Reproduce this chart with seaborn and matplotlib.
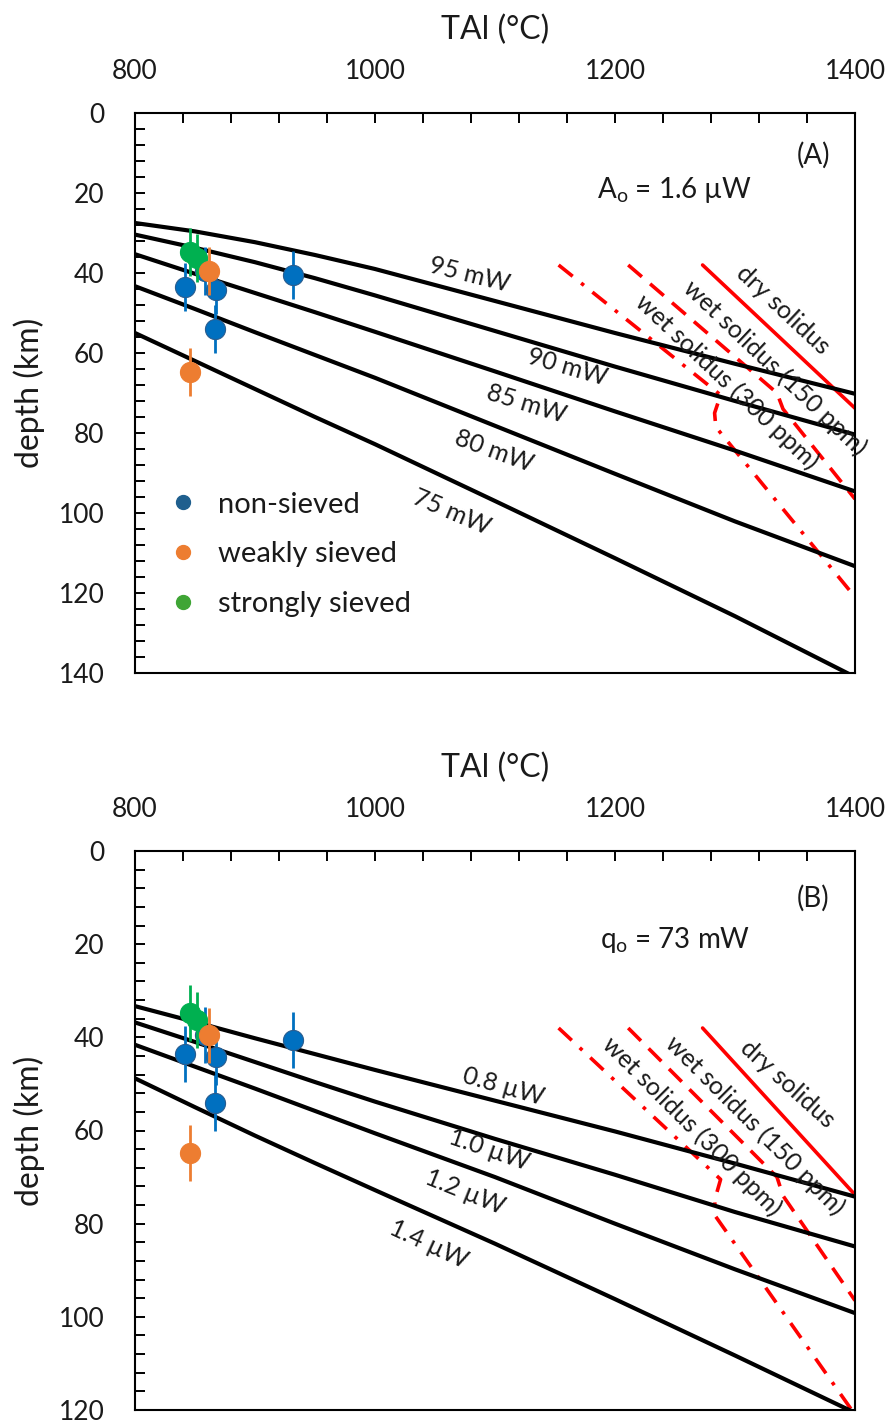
import matplotlib
matplotlib.use("Agg")
import matplotlib.pyplot as plt
from matplotlib.lines import Line2D
from matplotlib.ticker import MultipleLocator
import pandas as pd
import seaborn as sns

sns.set_theme(style="ticks")
plt.rcParams["font.family"] = ["Lato", "DejaVu Sans"]
plt.rcParams["mathtext.fontset"] = "custom"
plt.rcParams["mathtext.rm"] = "Lato"
plt.rcParams["mathtext.it"] = "Lato:italic"

# ---------------------------------------------------------------- data
# temperatures (°C) at which the geotherms are sampled
t_grid = [800, 850, 900, 950, 1000, 1100, 1200, 1300, 1400]

# panel A: geotherms for different surface heat flow, A0 = 1.6 µW
geo_a_names = ["95 mW", "90 mW", "85 mW", "80 mW", "75 mW"]
geo_a_95 = [27.5, 29.6, 32.3, 35.5, 39.0, 47.0, 55.0, 62.7, 70.2]
geo_a_90 = [30.4, 33.7, 37.3, 41.3, 45.6, 54.5, 63.4, 72.0, 80.4]
geo_a_85 = [35.3, 40.2, 45.0, 49.8, 54.7, 64.6, 74.6, 84.4, 94.6]
geo_a_80 = [43.3, 49.0, 54.8, 60.5, 66.2, 78.2, 90.2, 102.1, 113.3]
geo_a_75 = [55.0, 62.0, 69.0, 76.0, 82.8, 97.0, 111.3, 125.8, 141.0]

# panel B: geotherms for different heat production, q0 = 73 mW
geo_b_names = ["0.8 µW", "1.0 µW", "1.2 µW", "1.4 µW"]
geo_b_08 = [33.3, 36.7, 40.2, 43.6, 47.0, 53.6, 60.2, 67.1, 74.2]
geo_b_10 = [36.8, 41.0, 45.3, 49.6, 53.8, 61.8, 69.5, 77.5, 84.9]
geo_b_12 = [41.6, 46.3, 51.0, 55.8, 60.6, 70.0, 80.0, 89.8, 99.2]
geo_b_14 = [48.8, 55.0, 61.1, 67.0, 72.8, 84.3, 96.2, 108.3, 120.6]

# peridotite solidi (T in °C, depth in km)
dry_t = [1273, 1400]
dry_d = [38.0, 73.8]
wet150_t = [1211, 1335, 1340, 1400]
wet150_d = [38.0, 70.0, 74.0, 96.5]
wet300_t = [1153, 1288, 1283, 1284, 1400]
wet300_d = [38.0, 70.5, 75.0, 78.5, 121.0]

# xenolith / xenocryst estimates
pt_t = [842, 858, 867.5, 867, 932, 846, 852, 862, 845.5]
pt_d = [43.5, 39.5, 44.3, 54.0, 40.6, 34.7, 36.2, 39.6, 64.8]
pt_err = [6, 6, 6, 6, 6, 6, 6, 6, 6]
pt_group = ["non-sieved"] * 5 + ["strongly sieved"] * 2 + ["weakly sieved"] * 2
groups = ["non-sieved", "weakly sieved", "strongly sieved"]

# ---------------------------------------------------------------- styles
group_colors = {"non-sieved": "#0070C0", "weakly sieved": "#ED7D31",
                "strongly sieved": "#00B050"}
legend_colors = {"non-sieved": "#1F5F8E", "weakly sieved": "#ED7D31",
                 "strongly sieved": "#3FA535"}
RED = "#FF0000"

fig = plt.figure(figsize=(8.92, 14.25), dpi=100)
ax_a = fig.add_axes([135 / 892, 1 - 673 / 1425, 720 / 892, 560 / 1425])
ax_b = fig.add_axes([135 / 892, 1 - 1410 / 1425, 720 / 892, 559 / 1425])


def style_axes(ax, ymax):
    ax.set_xlim(800, 1400)
    ax.set_ylim(ymax, 0)
    ax.xaxis.tick_top()
    ax.xaxis.set_label_position("top")
    ax.xaxis.set_major_locator(MultipleLocator(200))
    ax.xaxis.set_minor_locator(MultipleLocator(40))
    ax.yaxis.set_major_locator(MultipleLocator(20))
    ax.yaxis.set_minor_locator(MultipleLocator(4))
    ax.tick_params(axis="x", which="both", direction="in", top=True,
                   bottom=False, length=7, width=1.4, color="black")
    ax.tick_params(axis="x", which="major", labelsize=19, pad=21,
                   labelcolor="#1a1a1a")
    ax.tick_params(axis="y", which="both", direction="in", left=True,
                   right=False, length=7, width=1.4, color="black")
    ax.tick_params(axis="y", which="major", labelsize=19, pad=22,
                   labelcolor="#1a1a1a")
    for sp in ax.spines.values():
        sp.set_visible(True)
        sp.set_linewidth(1.5)
        sp.set_color("black")
    ax.set_xlabel("TAl (°C)", fontsize=23, labelpad=14, color="#1a1a1a")
    ax.set_ylabel("depth (km)", fontsize=23, labelpad=10, color="#1a1a1a")
    ax.grid(False)


def draw_geotherms(ax, names, series):
    rows = []
    for name, depths in zip(names, series):
        for t, d in zip(t_grid, depths):
            rows.append({"T": t, "depth": d, "curve": name})
    df = pd.DataFrame(rows)
    sns.lineplot(data=df, x="T", y="depth", units="curve", estimator=None,
                 sort=False, color="black", linewidth=3.0, ax=ax,
                 legend=False, zorder=3)


def draw_solidi(ax):
    sns.lineplot(x=dry_t, y=dry_d, sort=False, estimator=None, color=RED,
                 linewidth=2.6, ax=ax, zorder=2)
    sns.lineplot(x=wet150_t, y=wet150_d, sort=False, estimator=None,
                 color=RED, linewidth=2.6, linestyle=(0, (5, 3)), ax=ax,
                 zorder=2)
    sns.lineplot(x=wet300_t, y=wet300_d, sort=False, estimator=None,
                 color=RED, linewidth=2.6, linestyle=(0, (5, 3, 1, 3)),
                 ax=ax, zorder=2)


def draw_points(ax):
    df = pd.DataFrame({"T": pt_t, "depth": pt_d, "err": pt_err,
                       "group": pt_group})
    order = ["non-sieved", "strongly sieved", "weakly sieved"]
    z = 5
    for g in order:
        sub = df[df["group"] == g]
        ax.errorbar(sub["T"], sub["depth"], yerr=sub["err"], fmt="none",
                    ecolor=group_colors[g], elinewidth=2.0, capsize=0,
                    zorder=z)
        sns.scatterplot(data=sub, x="T", y="depth", color=group_colors[g],
                        s=210, edgecolor="#2a5d8f" if g == "non-sieved"
                        else group_colors[g], linewidth=0.8, ax=ax,
                        legend=False, zorder=z + 1)
        z += 2


def solidus_labels(ax, pos):
    texts = ["dry solidus", "wet solidus (150 ppm)", "wet solidus (300 ppm)"]
    for txt, (t, d, rot) in zip(texts, pos):
        ax.text(t, d, txt, rotation=rot, rotation_mode="anchor",
                ha="center", va="center", fontsize=18, color="#1a1a1a",
                zorder=4)


# ---------------------------------------------------------------- panel A
style_axes(ax_a, 140)
draw_solidi(ax_a)
draw_geotherms(ax_a, geo_a_names,
               [geo_a_95, geo_a_90, geo_a_85, geo_a_80, geo_a_75])
draw_points(ax_a)
for name, (t, d, rot) in zip(geo_a_names, [(1079, 40.3, -14), (1160, 63.6, -16),
                                            (1126, 72.8, -17), (1099, 84.4, -20),
                                            (1064, 99.8, -23)]):
    ax_a.text(t, d, name, rotation=rot, rotation_mode="anchor", ha="center",
              va="center", fontsize=18, color="#1a1a1a", zorder=4)
solidus_labels(ax_a, [(1340, 49.3, -43), (1333, 63.8, -43.5),
                      (1293, 67.3, -43.5)])
ax_a.text(1365, 10.5, "(A)", ha="center", va="center", fontsize=20,
          color="#1a1a1a")
ax_a.text(1250, 19.3, r"A$_\mathrm{o}$ = 1.6 µW", ha="center", va="center",
          fontsize=20, color="#1a1a1a")

handles = [Line2D([], [], ls="none", marker="o", markersize=10,
                  markerfacecolor=legend_colors[g],
                  markeredgecolor=legend_colors[g]) for g in groups]
ax_a.legend(handles, groups, loc="upper left", bbox_to_anchor=(0.043, 0.324),
            frameon=False, fontsize=21, handlelength=1.15, handletextpad=0.62,
            labelspacing=0.82, borderpad=0, borderaxespad=0,
            labelcolor="#1a1a1a")

# ---------------------------------------------------------------- panel B
style_axes(ax_b, 120)
draw_solidi(ax_b)
draw_geotherms(ax_b, geo_b_names, [geo_b_08, geo_b_10, geo_b_12, geo_b_14])
draw_points(ax_b)
for name, (t, d, rot) in zip(geo_b_names, [(1107, 50.6, -16), (1095, 64.2, -19),
                                            (1075, 73.1, -22), (1045, 84.5, -25)]):
    ax_b.text(t, d, name, rotation=rot, rotation_mode="anchor", ha="center",
              va="center", fontsize=18, color="#1a1a1a", zorder=4)
solidus_labels(ax_b, [(1344, 50.0, -42), (1317, 58.8, -45), (1264, 59.0, -45)])
ax_b.text(1365, 10.1, "(B)", ha="center", va="center", fontsize=20,
          color="#1a1a1a")
ax_b.text(1250, 19.1, r"q$_\mathrm{o}$ = 73 mW", ha="center", va="center",
          fontsize=20, color="#1a1a1a")

fig.savefig("out.png", dpi=100, facecolor="white")
